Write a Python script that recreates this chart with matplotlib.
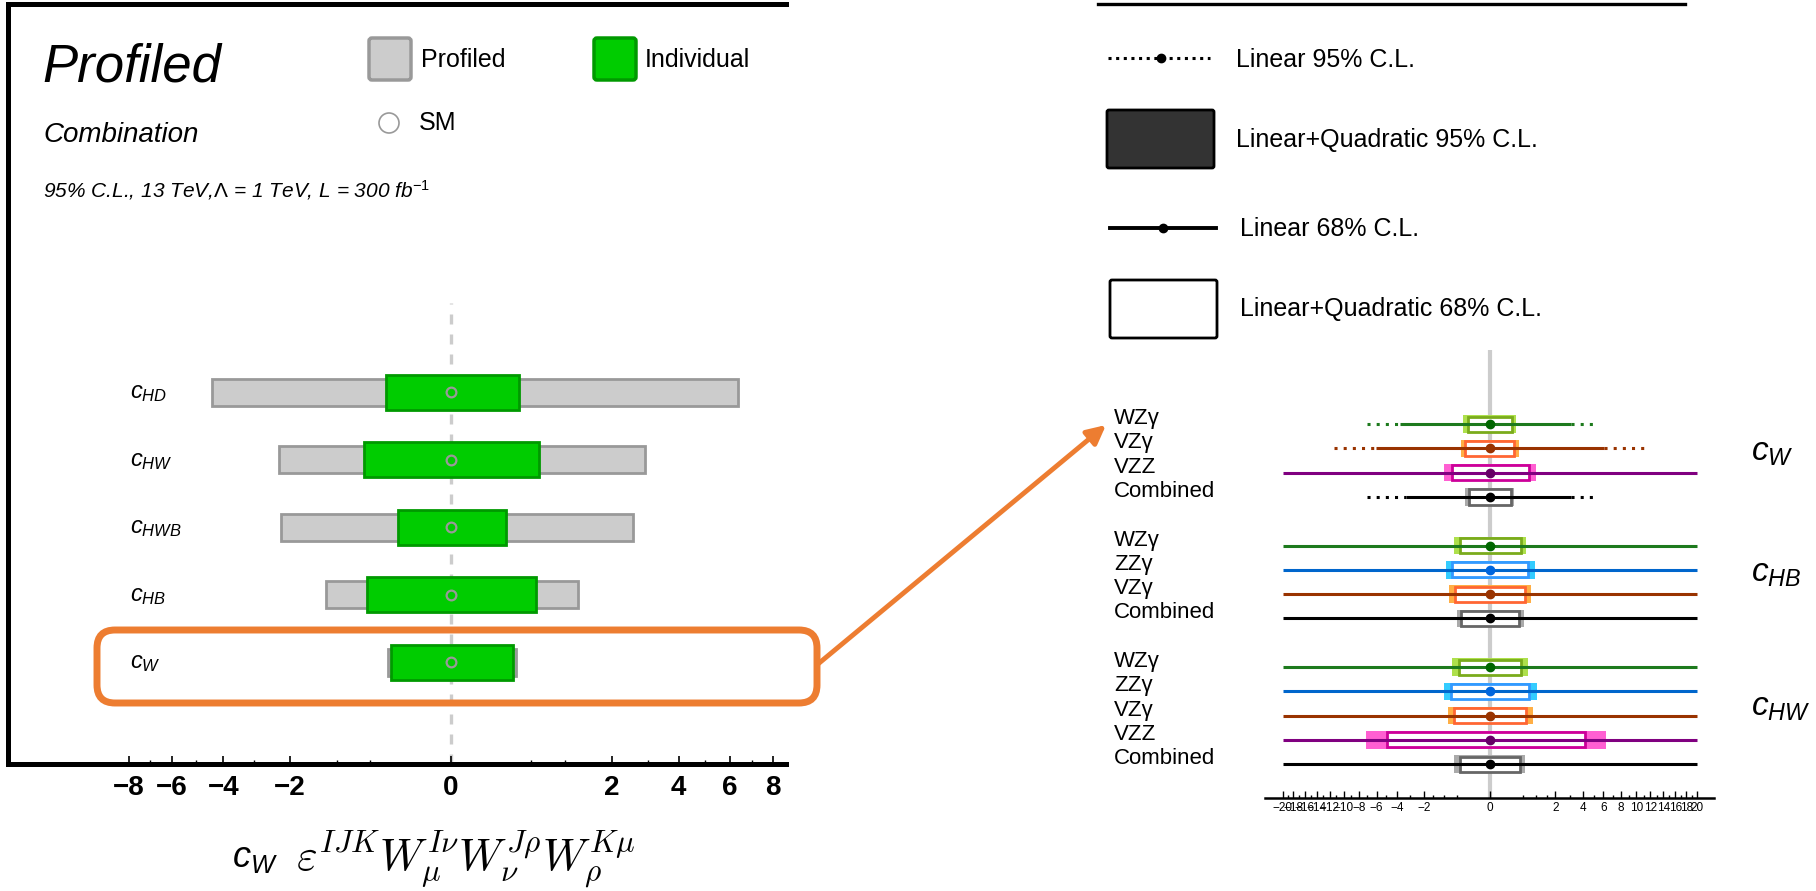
import numpy as np
import matplotlib.pyplot as plt
from matplotlib.patches import Rectangle, FancyBboxPatch, FancyArrowPatch, Circle

plt.rcParams['font.family'] = ['Liberation Sans', 'DejaVu Sans']
plt.rcParams['mathtext.fontset'] = 'custom'
plt.rcParams['mathtext.it'] = 'Liberation Sans:italic'
plt.rcParams['mathtext.rm'] = 'Liberation Sans'
plt.rcParams['mathtext.bf'] = 'Liberation Sans:bold'

# ---- left panel: profiled vs individual 95% limits (bottom to top) ----
operators = ['c_{W}', 'c_{HB}', 'c_{HWB}', 'c_{HW}', 'c_{HD}']
profiled_lo = [-0.31, -1.20, -2.23, -2.28, -4.41]
profiled_hi = [0.33, 1.25, 2.56, 2.91, 6.36]
individual_lo = [-0.28, -0.545, -0.22, -0.58, -0.33]
individual_hi = [0.30, 0.56, 0.23, 0.60, 0.36]
sm_value = 0.0
left_major = [-8, -6, -4, -2, 0, 2, 4, 6, 8]
left_minor = [-7, -5, -3, -1, -0.5, 0.5, 1, 3, 5, 7]

# ---- right panel: per-channel limits, grouped by operator ----
cw_channels = ['WZγ', 'VZγ', 'VZZ', 'Combined']
cw_lin68 = [(-3.75, 3.08), (-6.1, 6.06), (-20, 20), (-3.32, 3.08)]
cw_lin95 = [(-7.1, 5.17), (-11.4, 11.5), None, (-7.0, 5.17)]
cw_lq95 = [(-0.34, 0.32), (-0.39, 0.38), (-1.0, 0.97), (-0.28, 0.28)]
cw_lq68 = [(-0.23, 0.23), (-0.30, 0.28), (-0.67, 0.70), (-0.21, 0.20)]

chb_channels = ['WZγ', 'ZZγ', 'VZγ', 'Combined']
chb_lin68 = [(-20, 20), (-20, 20), (-20, 20), (-20, 20)]
chb_lin95 = [None, None, None, None]
chb_lq95 = [(-0.60, 0.61), (-0.91, 0.93), (-0.78, 0.80), (-0.52, 0.55)]
chb_lq68 = [(-0.43, 0.46), (-0.66, 0.66), (-0.58, 0.58), (-0.38, 0.40)]

chw_channels = ['WZγ', 'ZZγ', 'VZγ', 'VZZ', 'Combined']
chw_lin68 = [(-20, 20), (-20, 20), (-20, 20), (-20, 20), (-20, 20)]
chw_lin95 = [None, None, None, None, None]
chw_lq95 = [(-0.66, 0.69), (-0.99, 1.03), (-0.83, 0.87), (-7.14, 6.31), (-0.60, 0.56)]
chw_lq68 = [(-0.46, 0.46), (-0.71, 0.72), (-0.61, 0.61), (-4.95, 4.21), (-0.43, 0.42)]

groups = [('c_{W}', cw_channels, cw_lin68, cw_lin95, cw_lq95, cw_lq68),
          ('c_{HB}', chb_channels, chb_lin68, chb_lin95, chb_lq95, chb_lq68),
          ('c_{HW}', chw_channels, chw_lin68, chw_lin95, chw_lq95, chw_lq68)]
right_major = list(range(-20, 21, 2))
right_minor = [x for x in range(-19, 20, 2)] + [-1.5, -0.5, 0.5, 1.5]

# colours: (line/dot, box edge, box fill)
channel_colors = {
    'WZγ': ('#1d7a1d', '#7aab1c', '#aee04c'),
    'VZγ': ('#993300', '#ff6633', '#ffae45'),
    'VZZ': ('#800080', '#cc0099', '#ff5fd2'),
    'ZZγ': ('#0066cc', '#3399ff', '#33ccff'),
    'Combined': ('#000000', '#666666', '#aaaaaa'),
}
dot_colors = {'WZγ': '#006600', 'VZγ': '#993300', 'VZZ': '#660066',
              'ZZγ': '#0066dd', 'Combined': '#000000'}
orange = '#ED7D31'


def signed_sqrt(x):
    return np.sign(x) * np.sqrt(np.abs(x))


def signed_square(y):
    return np.sign(y) * y ** 2


W, H = 1816, 891
fig = plt.figure(figsize=(W / 100, H / 100), dpi=100)


def frame(l, t, r, b):
    return [l / W, 1 - b / H, (r - l) / W, (b - t) / H]


# ================= left panel =================
ax1 = fig.add_axes(frame(8, 4, 786, 764))
ax1.set_xscale('function', functions=(signed_sqrt, signed_square))
ax1.set_xlim(-15.15, 8.67)
ax1.set_ylim(-1.51, 9.75)
for side in ['left', 'top', 'bottom']:
    ax1.spines[side].set_linewidth(3.6)
ax1.spines['right'].set_visible(False)
ax1.set_yticks([])
ax1.set_xticks(left_major)
ax1.set_xticks(left_minor, minor=True)
ax1.set_xticklabels([f'{v}'.replace('-', '\u2212') for v in left_major],
                    fontsize=20, fontweight='bold')
ax1.tick_params(axis='x', which='major', direction='in', length=6, width=1.2, pad=8)
ax1.tick_params(axis='x', which='minor', direction='in', length=3, width=1.0)

rows = np.arange(len(operators))
ax1.plot([sm_value, sm_value], [-1.51, 5.32], color='#cccccc', lw=2.4,
         dashes=(3, 3), zorder=1)
ax1.barh(rows, np.subtract(profiled_hi, profiled_lo), left=profiled_lo, height=0.40,
         color='#cccccc', edgecolor='#999999', linewidth=2.0, zorder=2)
ax1.barh(rows, np.subtract(individual_hi, individual_lo), left=individual_lo, height=0.52,
         color='#00cc00', edgecolor='#009900', linewidth=2.0, zorder=3)
ax1.plot(np.full(len(rows), sm_value), rows, 'o', ms=7, mfc='none', mec='#999999',
         mew=1.6, zorder=4)
for r, name in zip(rows, operators):
    ax1.text(0.157, r - 0.09, f'${name}$', transform=ax1.get_yaxis_transform(),
             fontsize=17, ha='left', va='baseline')

# ================= right panel =================
ax2 = fig.add_axes(frame(1265, 350, 1714, 798))
ax2.set_xscale('function', functions=(signed_sqrt, signed_square))
ax2.set_xlim(-23.6, 23.4)
ax2.set_ylim(15.39, -3.05)
for side in ['left', 'top', 'right']:
    ax2.spines[side].set_visible(False)
ax2.spines['bottom'].set_linewidth(1.8)
ax2.set_yticks([])
ax2.set_xticks(right_major)
ax2.set_xticks(right_minor, minor=True)
ax2.set_xticklabels([f'{v}'.replace('-', '\u2212') for v in right_major], fontsize=8.5)
ax2.tick_params(axis='x', which='major', direction='in', length=5, width=1.0, pad=3)
ax2.tick_params(axis='x', which='minor', direction='in', length=2.5, width=1.0)
ax2.axvline(0, color='#cccccc', lw=3, zorder=0)

y = 0
for gname, chans, lin68, lin95, lq95, lq68 in groups:
    ys = []
    for ch, l68, l95, q95, q68 in zip(chans, lin68, lin95, lq95, lq68):
        line_c, edge_c, fill_c = channel_colors[ch]
        if l95 is not None:
            ax2.plot([l95[0], l68[0]], [y, y], color=line_c, lw=2.2,
                     linestyle=(0, (1, 2)), zorder=2)
            ax2.plot([l68[1], l95[1]], [y, y], color=line_c, lw=2.2,
                     linestyle=(0, (1, 2)), zorder=2)
        ax2.add_patch(Rectangle((q95[0], y - 0.36), q95[1] - q95[0], 0.72,
                                facecolor=fill_c, edgecolor='none', zorder=3))
        ax2.add_patch(Rectangle((q68[0], y - 0.31), q68[1] - q68[0], 0.62,
                                facecolor='white', edgecolor=edge_c, lw=2.0, zorder=4))
        ax2.plot([l68[0], l68[1]], [y, y], color=line_c, lw=2.2, zorder=5,
                 solid_capstyle='butt')
        ax2.plot([0], [y], 'o', color=dot_colors[ch], ms=6, zorder=6)
        ax2.text(-0.336, y, ch, transform=ax2.get_yaxis_transform(), fontsize=16,
                 ha='left', va='baseline')
        ys.append(y)
        y += 1
    ax2.text(1.083, np.mean(ys), f'${gname}$', transform=ax2.get_yaxis_transform(),
             fontsize=24, ha='left', va='baseline')
    y += 1

# ================= overlay: legends, annotations =================
ov = fig.add_axes([0, 0, 1, 1], zorder=10)
ov.set_xlim(0, W)
ov.set_ylim(H, 0)
ov.axis('off')
ov.patch.set_alpha(0)

# left panel header
ov.text(42, 82, 'Profiled', fontsize=38, style='italic', va='baseline')
ov.text(43, 142, 'Combination', fontsize=20, style='italic', va='baseline')
ov.text(43, 197, r'95% C.L., 13 TeV,$\Lambda$ = 1 TeV, L = 300 fb$^{-1}$',
        fontsize=15, style='italic', va='baseline')
ov.add_patch(FancyBboxPatch((369, 38), 42, 42, boxstyle='round,pad=0,rounding_size=3',
                            facecolor='#cccccc', edgecolor='#999999', lw=2.5))
ov.text(421, 67, 'Profiled', fontsize=18, va='baseline')
ov.add_patch(FancyBboxPatch((594, 38), 42, 42, boxstyle='round,pad=0,rounding_size=3',
                            facecolor='#00cc00', edgecolor='#009900', lw=2.5))
ov.text(645, 67, 'Individual', fontsize=18, va='baseline')
ov.add_patch(Circle((389, 123), 10, facecolor='none', edgecolor='#999999', lw=1.2))
ov.text(419, 130, 'SM', fontsize=18, va='baseline')

# highlight box around c_W and arrow to the detailed view
ov.add_patch(FancyBboxPatch((97, 630), 720, 73, boxstyle='round,pad=0,rounding_size=18',
                            facecolor='none', edgecolor=orange, lw=5))
ov.add_patch(FancyArrowPatch((818, 664), (1106, 425), arrowstyle='-|>',
                             mutation_scale=28, color=orange, lw=3.5,
                             shrinkA=0, shrinkB=0))

# operator formula
ov.text(232, 867, r'$c_{W}$', fontsize=26, va='baseline')
ov.text(296, 870, r'$\varepsilon^{IJK}W_{\mu}^{I\nu}W_{\nu}^{J\rho}W_{\rho}^{K\mu}$',
        fontsize=32, va='baseline', math_fontfamily='cm')

# right panel legend
ov.plot([1098, 1685], [4, 4], color='black', lw=2.4)
ov.plot([1108, 1210], [58, 58], color='black', lw=2.2, linestyle=(0, (1, 1.5)))
ov.plot([1161], [58], 'o', color='black', ms=6)
ov.text(1236, 67, 'Linear 95% C.L.', fontsize=18, va='baseline')
ov.add_patch(FancyBboxPatch((1107, 110), 107, 58, boxstyle='round,pad=0,rounding_size=2',
                            facecolor='#333333', edgecolor='black', lw=2))
ov.text(1236, 147, 'Linear+Quadratic 95% C.L.', fontsize=18, va='baseline')
ov.plot([1110, 1216], [228, 228], color='black', lw=2.8)
ov.plot([1163], [228], 'o', color='black', ms=6)
ov.text(1240, 236, 'Linear 68% C.L.', fontsize=18, va='baseline')
ov.add_patch(FancyBboxPatch((1110, 280), 107, 58, boxstyle='round,pad=0,rounding_size=2',
                            facecolor='white', edgecolor='black', lw=2))
ov.text(1240, 316, 'Linear+Quadratic 68% C.L.', fontsize=18, va='baseline')

fig.savefig('out.png', dpi=100)
